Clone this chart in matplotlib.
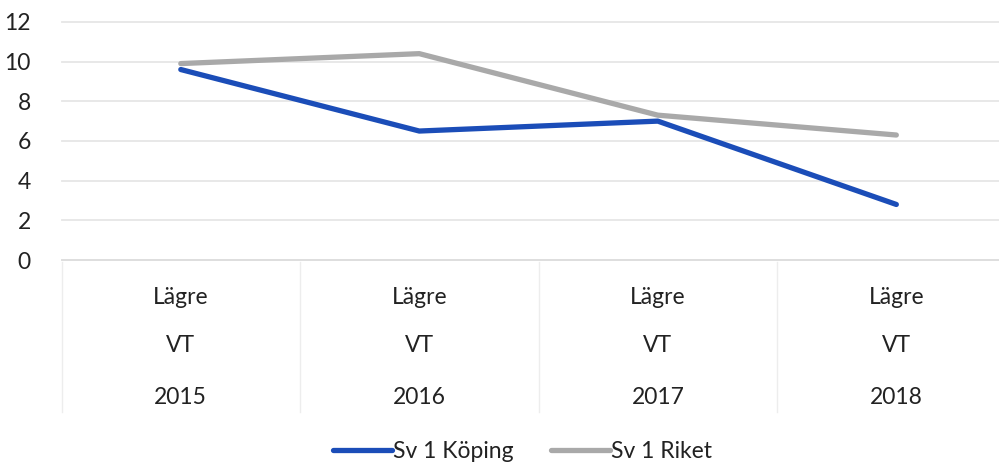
import matplotlib
matplotlib.use("Agg")
import matplotlib.pyplot as plt
from matplotlib.transforms import blended_transform_factory

plt.rcParams['font.family'] = ['Lato', 'DejaVu Sans']

# data
categories = ["Lägre\nVT\n2015", "Lägre\nVT\n2016", "Lägre\nVT\n2017", "Lägre\nVT\n2018"]
koping = [9.6, 6.5, 7.0, 2.8]
riket = [9.9, 10.4, 7.3, 6.3]
series_names = ["Sv 1 Köping", "Sv 1 Riket"]
yticks = [0, 2, 4, 6, 8, 10, 12]

fig = plt.figure(figsize=(9.99, 4.66), dpi=100)
# right edge runs past the figure, as in the cropped original
ax = fig.add_axes([0.0616, 0.442, 0.955, 0.511])

x = list(range(len(categories)))
ax.plot(x, koping, color='#1B4DB8', lw=3.8, solid_capstyle='round',
        solid_joinstyle='round', label=series_names[0], zorder=3)
ax.plot(x, riket, color='#A9A9A9', lw=3.8, solid_capstyle='round',
        solid_joinstyle='round', label=series_names[1], zorder=2)

ax.set_xlim(-0.5, len(categories) - 0.5)
ax.set_ylim(0, 12)
ax.set_yticks(yticks)
ax.set_yticklabels([str(v) for v in yticks], fontsize=16.5, color='#222222')
ax.yaxis.grid(True, color='#E6E6E6', lw=1.3)
ax.set_axisbelow(True)
for side in ['left', 'right', 'top']:
    ax.spines[side].set_visible(False)
ax.spines['bottom'].set_color('#DDDDDD')
ax.spines['bottom'].set_linewidth(1.3)
ax.tick_params(axis='y', length=0, pad=22)
ax.tick_params(axis='x', length=0)
ax.set_xticks(x)
ax.set_xticklabels([])
for gl in ax.get_ygridlines():
    gl.set_clip_on(False)

# category labels, three lines each
tr = blended_transform_factory(ax.transData, fig.transFigure)
line_y = [1 - 297 / 466, 1 - 345 / 466, 1 - 397 / 466]
for xi, lab in zip(x, categories):
    for yy, part in zip(line_y, lab.split("\n")):
        fig.text(xi, yy, part, transform=tr, ha='center', va='center',
                 fontsize=16.5, color='#222222')

# faint dividers between category labels
div_y0 = 1 - 262 / 466
div_y1 = 1 - 412 / 466
for xi in [-0.5 + i for i in range(len(categories) + 1)]:
    ax.plot([xi, xi], [div_y0, div_y1], transform=tr, color='#EDEDED',
            lw=1.0, clip_on=False)

fig.legend(loc='center', bbox_to_anchor=(0.523, 1 - 452 / 466), ncol=2,
           frameon=False, fontsize=16.5, handlelength=2.6, handletextpad=0.05,
           columnspacing=1.6, labelcolor='#222222')

fig.savefig("out.png", dpi=100)
